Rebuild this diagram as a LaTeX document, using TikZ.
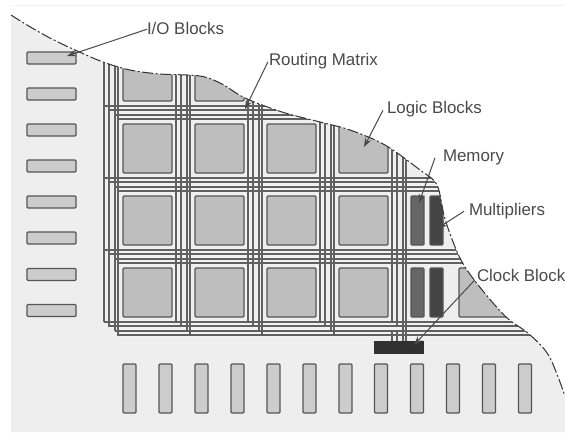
\documentclass[tikz,border=0pt]{standalone}
\usepackage{fontspec}
\setmainfont{Liberation Sans}
\usetikzlibrary{arrows.meta}
\definecolor{bgc}{HTML}{EEEEEE}
\definecolor{linec}{HTML}{606060}
\definecolor{edgec}{HTML}{555555}
\definecolor{logicc}{HTML}{BEBEBE}
\definecolor{ioc}{HTML}{CCCCCC}
\definecolor{memc}{HTML}{666666}
\definecolor{mulc}{HTML}{444444}
\definecolor{clkc}{HTML}{303030}
\definecolor{txtc}{HTML}{4A4A4A}
\definecolor{bandc}{HTML}{F2F2F2}
\def\outlinepts{(11,15) (27,25) (50,38) (75,50) (103,62) (130,70) (160,74) (200,76) (222,84) (245,98) (282,112) (320,122) (350,130) (385,145) (420,170) (437,185) (445,219) (459,256) (475,281) (505,316) (529,334) (549,356) (565,396)}
\tikzset{
  blockbase/.style={draw=edgec,line width=1.2pt,rounded corners=1pt,inner sep=0pt,outer sep=0pt},
  logicblock/.style={blockbase,fill=logicc,minimum width=49pt,minimum height=49pt},
  ioh/.style={blockbase,fill=ioc,minimum width=49pt,minimum height=12pt},
  iov/.style={blockbase,fill=ioc,minimum width=13pt,minimum height=49pt},
  memblock/.style={blockbase,fill=memc,minimum width=13pt,minimum height=49pt},
  mulblock/.style={blockbase,fill=mulc,minimum width=13pt,minimum height=49pt},
  clockblock/.style={draw=clkc,fill=clkc,line width=.6pt,inner sep=0pt,outer sep=0pt,minimum width=49pt,minimum height=12pt},
  route/.style={draw=linec,line width=1.1pt},
  band/.style={draw=bandc,line width=3.4pt},
  lab/.style={anchor=west,inner sep=0pt,outer sep=0pt,text=txtc,text height=12pt,text depth=3.5pt,font=\fontsize{16.9}{19}\selectfont},
  pointer/.style={draw=txtc,line width=1pt,-{Stealth[length=9pt,width=6.5pt]}},
}
\begin{document}
\begin{tikzpicture}[x=1pt,y=-1pt]
\useasboundingbox (0,0) rectangle (565,432);
\fill[white] (0,0) rectangle (565,432);
\draw[color=bgc!70!white,line width=.8pt] (11,5) -- (565,5);
\fill[bgc] (11,432) -- plot[smooth,tension=.55] coordinates {\outlinepts} -- (565,432) -- cycle;
\begin{scope}
  \clip (11,432) -- plot[smooth,tension=.55] coordinates {\outlinepts} -- (565,432) -- cycle;
  % routing channels
  \foreach \g in {0,72,144,216,288} {
    \foreach \d/\e in {0/322,5/327,11/331,14/336} {
      \draw[band] ({104+\g+\d},40) -- ({104+\g+\d},\e);
    }
  }
  \foreach \g in {0,72,144,216} {
    \foreach \d/\s in {0/104,4/109,9/115,13/118} {
      \draw[band] (\s,{106+\g+\d}) -- (565,{106+\g+\d});
    }
  }
  \foreach \g in {0,72,144,216,288} {
    \foreach \d/\e in {0/322,5/327,11/331,14/336} {
      \draw[route] ({104+\g+\d},40) -- ({104+\g+\d},\e);
    }
  }
  \foreach \d in {0,5,11,14} { \draw[route] ({392+\d},330) -- ({392+\d},342); }
  \foreach \g in {0,72,144,216} {
    \foreach \d/\s in {0/104,4/109,9/115,13/118} {
      \draw[route] (\s,{106+\g+\d}) -- (565,{106+\g+\d});
    }
  }
  % logic blocks
  \foreach \c/\x in {a/147.5,b/219.5,c/291.5,d/363.5} {
    \foreach \r/\y in {1/76.5,2/148.5,3/220.5,4/292.5} {
      \node[logicblock] (logic\c\r) at (\x,\y) {};
    }
  }
  \node[logicblock] (logice4) at (483.5,292.5) {};
  \node[memblock] (mem1) at (417.5,220.5) {};
  \node[memblock] (mem2) at (417.5,292.5) {};
  \node[mulblock] (mul1) at (436.5,220.5) {};
  \node[mulblock] (mul2) at (436.5,292.5) {};
\end{scope}
\draw[edgec!60!black,line width=1pt,dash pattern=on 11pt off 2.5pt on 2pt off 2.5pt] plot[smooth,tension=.55] coordinates {\outlinepts};
% I/O blocks
\foreach \i/\y in {1/58,2/94,3/130,4/166,5/202,6/238,7/274.5,8/310.5} {
  \node[ioh] (ioL\i) at (51.5,\y) {};
}
\foreach \i/\x in {1/129.5,2/165.5,3/201.5,4/237.5,5/273.5,6/309.5,7/345.5,8/381,9/417,10/453,11/489,12/525} {
  \node[iov] (ioB\i) at (\x,388.5) {};
}
\node[clockblock] (clk) at (398.5,347) {};
% labels
\node[lab] (lio) at (147,30.25) {I/O Blocks};
\node[lab] (lrt) at (269,60.75) {Routing Matrix};
\node[lab] (llg) at (387,109.25) {Logic Blocks};
\node[lab] (lme) at (443,156.75) {Memory};
\node[lab] (lmu) at (469,211.25) {Multipliers};
\node[lab] (lck) at (477,276.75) {Clock Block};
% pointer ends
\coordinate (pio) at (67,56);
\coordinate (prt) at (245,109);
\coordinate (plg) at (364,147);
\coordinate (pme) at (419,203);
\coordinate (pmu) at (438,228);
\coordinate (pck) at (414,345);
\draw[pointer] (lio.west) ++(0,-1) -- (pio);
\draw[pointer] (lrt.west) ++(-1,1) -- (prt);
\draw[pointer] (llg.west) ++(-4,1) -- (plg);
\draw[pointer] (lme.west) ++(-8,1) -- (pme);
\draw[pointer] (lmu.west) ++(-5,0) -- (pmu);
\draw[pointer] (lck.west) ++(-2,3) -- (pck);
\end{tikzpicture}
\end{document}
